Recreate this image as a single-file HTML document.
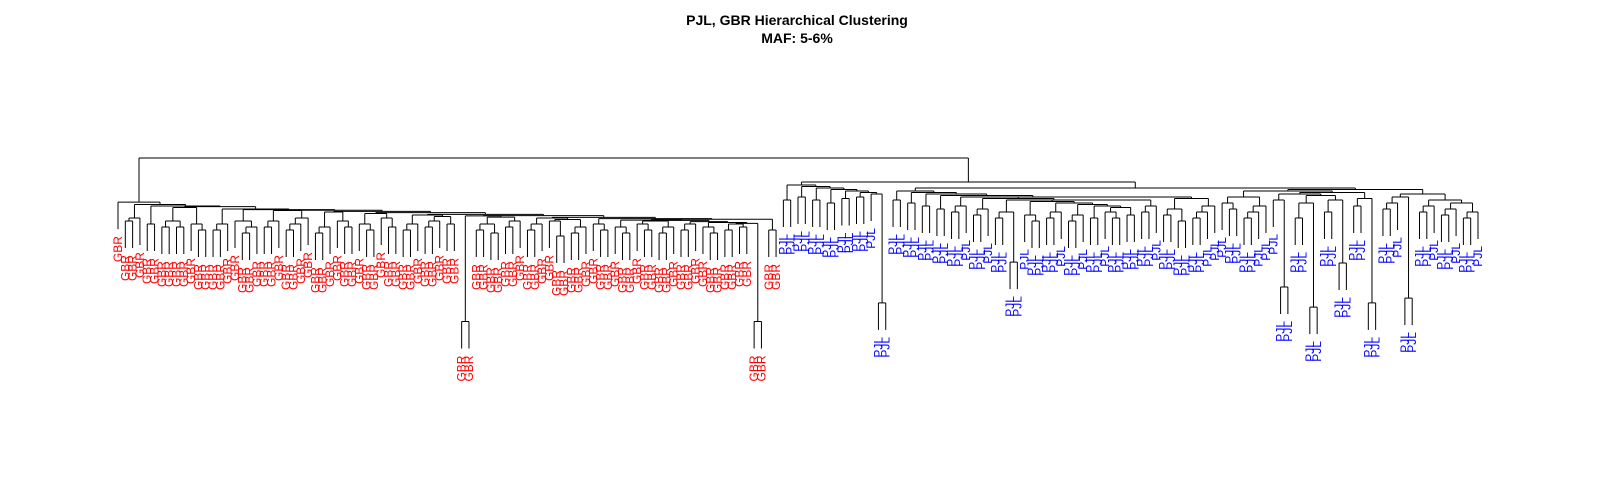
<!DOCTYPE html>
<html><head><meta charset="utf-8"><style>
body{margin:0;background:#fff;}
svg{display:block;font-family:"Liberation Sans",sans-serif;}
</style></head><body>
<svg id="chart" width="1600" height="480" viewBox="0 0 1600 480">
<text x="797" y="25" text-anchor="middle" font-size="14" font-weight="bold">PJL, GBR Hierarchical Clustering</text>
<text x="797" y="43" text-anchor="middle" font-size="14" font-weight="bold">MAF: 5-6%</text>
<g id="tree"></g>
<g id="labels"></g>
</svg>
<script>
// adjacent merge heights between consecutive leaves (cophenetic), GBR group
const gbrGaps=[85.3,79,80,84.5,78,84,77,79,77,83.5,78,76,83.8,76,78,83,79,75,77,82.8,77,79,82.5,76,78,80,82.6,75,77,82,79,77,82.2,78,76,81.5,80,77,81.8,76,78,81,77,79,80.5,78,81.2,45.5,80.7,76,78,75,80.3,77,79,80.8,76,78,80,79,74,79.5,75,77,80.2,78,76,79.8,77,75,79.3,78,76,79,75,77,79.2,76,78,78.8,77,75,78.5,76,78,77,78.2,45.5,79.6,76];
// PJL group
const pjlGaps=[86,91,87,90.5,86,90,85,89.5,86.5,89,87,88.5,88,51.7,92,86,89,85,88.5,84,88,83,87.5,82,84,87,81,83,86.5,80,82,65.3,86,81,79,85.5,80,82,85,79,81,84.5,80,84,82,80,83.5,81,86,82,84,87,81,83,79,86.5,80,82,84,90,85,83,87,80,82,84,89,86,57,88,80,85,50.3,87.5,82,86,65,88.5,84,86.5,51.7,89.5,83,85,87,53.3,88,82,84,86,81,83,85,80,82];
const rootHeight=100;
const groups=["GBR","PJL"];
const groupColors={GBR:"#ff0000",PJL:"#0000ff"};
const hang=9;

const gaps=gbrGaps.concat([rootHeight],pjlGaps);
const labels=[];
for(let i=0;i<gbrGaps.length+1;i++)labels.push(groups[0]);
for(let i=0;i<pjlGaps.length+1;i++)labels.push(groups[1]);
const n=labels.length;
const xScale=i=>118+i*(1478-118)/(n-1);
const yScale=h=>458-3*h;
const NS="http://www.w3.org/2000/svg";
const tree=document.getElementById('tree');
const lab=document.getElementById('labels');

function build(lo,hi){
  if(lo===hi)return{leaf:true,i:lo,x:xScale(lo)};
  let k=lo;for(let j=lo;j<hi;j++)if(gaps[j]>gaps[k])k=j;
  const l=build(lo,k),r=build(k+1,hi);
  return{leaf:false,h:gaps[k],l,r,x:(l.x+r.x)/2};
}
function line(x1,y1,x2,y2){
  const e=document.createElementNS(NS,'line');
  e.setAttribute('x1',x1);e.setAttribute('y1',y1);e.setAttribute('x2',x2);e.setAttribute('y2',y2);
  e.setAttribute('stroke','#000');e.setAttribute('stroke-width','1');
  
  
  tree.appendChild(e);
}
function draw(node){
  const y=yScale(node.h);
  line(node.l.x,y,node.r.x,y);
  [node.l,node.r].forEach(c=>{
    if(c.leaf){
      const yb=yScale(node.h-hang);
      line(c.x,y,c.x,yb);
      const t=document.createElementNS(NS,'text');
      const ty=yb+7;
      t.setAttribute('x',c.x+4);t.setAttribute('y',ty);
      t.setAttribute('transform','rotate(-90 '+(c.x+4)+' '+ty+')');
      t.setAttribute('text-anchor','end');t.setAttribute('font-size','12');
      t.setAttribute('fill',groupColors[labels[c.i]]);
      
      
      t.textContent=labels[c.i];
      lab.appendChild(t);
    }else{
      line(c.x,y,c.x,yScale(c.h));
      draw(c);
    }
  });
}
draw(build(0,n-1));
</script>
</body></html>
